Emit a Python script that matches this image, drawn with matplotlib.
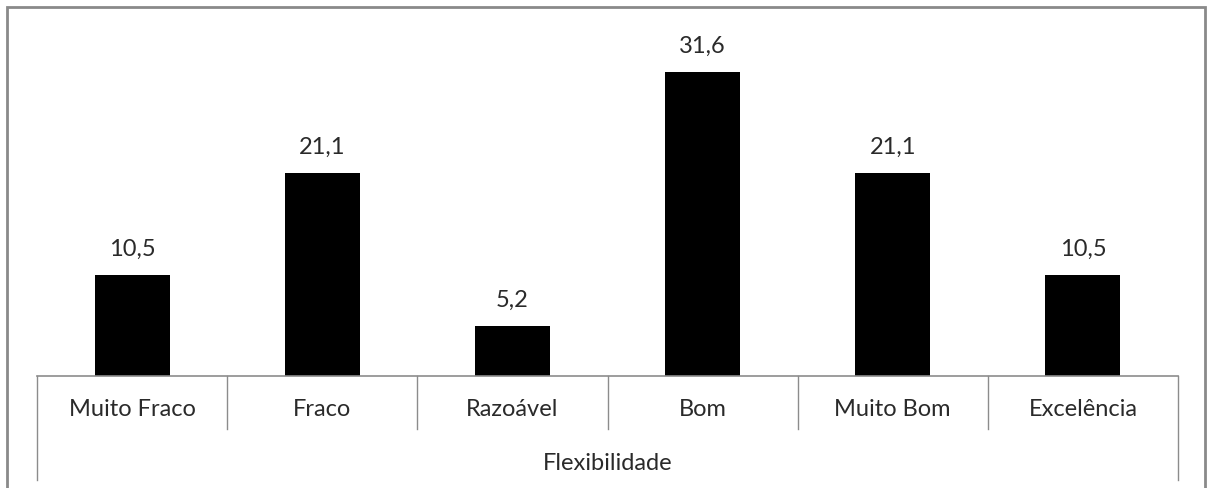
import matplotlib
matplotlib.use("Agg")
import matplotlib.pyplot as plt
from matplotlib.lines import Line2D
from matplotlib.patches import Rectangle
from matplotlib.transforms import blended_transform_factory

categories = ["Muito Fraco", "Fraco", "Razoável", "Bom", "Muito Bom", "Excelência"]
values = [10.5, 21.1, 5.2, 31.6, 21.1, 10.5]
value_labels = ["10,5", "21,1", "5,2", "31,6", "21,1", "10,5"]
axis_title = "Flexibilidade"

W, H = 1208, 488
plt.rcParams['font.family'] = ['Lato', 'DejaVu Sans']
fig = plt.figure(figsize=(W / 100, H / 100), dpi=100)

def fx(px):
    return px / W

def fy(py):
    return 1 - py / H

FS = 17
TXT = "#2a2a2a"
ax = fig.add_axes([fx(37), fy(376), fx(1178) - fx(37), fy(20) - fy(376)])
x = list(range(len(categories)))
ax.bar(x, values, width=0.395, color="black")
ax.set_xlim(-0.5, len(categories) - 0.5)
ax.set_ylim(0, 37.0)
for s in ["top", "left", "right"]:
    ax.spines[s].set_visible(False)
ax.spines["bottom"].set_color("#8c8c8c")
ax.spines["bottom"].set_linewidth(1.2)
ax.set_xticks([])
ax.set_yticks([])

for xi, v, lab in zip(x, values, value_labels):
    ax.annotate(lab, (xi, v), xytext=(0, 11), textcoords="offset points",
                ha="center", va="bottom", fontsize=FS, color=TXT)

tr = blended_transform_factory(ax.transData, fig.transFigure)
gray = "#8c8c8c"
for i in range(1, len(categories)):
    fig.add_artist(Line2D([i - 0.5, i - 0.5], [fy(376), fy(429)], transform=tr,
                          color=gray, lw=1.0))
for xe in [-0.5, len(categories) - 0.5]:
    fig.add_artist(Line2D([xe, xe], [fy(376), fy(480)], transform=tr,
                          color=gray, lw=1.0))
for xi, c in zip(x, categories):
    t = fig.text(xi, fy(410), c, ha="center", va="center", fontsize=FS, color=TXT)
    t.set_transform(tr)
t = fig.text((len(categories) - 1) / 2, fy(463), axis_title, ha="center", va="center",
             fontsize=FS, color=TXT)
t.set_transform(tr)

fig.add_artist(Rectangle((fx(7), fy(495)), fx(1205) - fx(7), fy(7) - fy(495),
                         transform=fig.transFigure, fill=False,
                         edgecolor="#8a8a8a", lw=2.0))

fig.savefig("out.png", dpi=100)
